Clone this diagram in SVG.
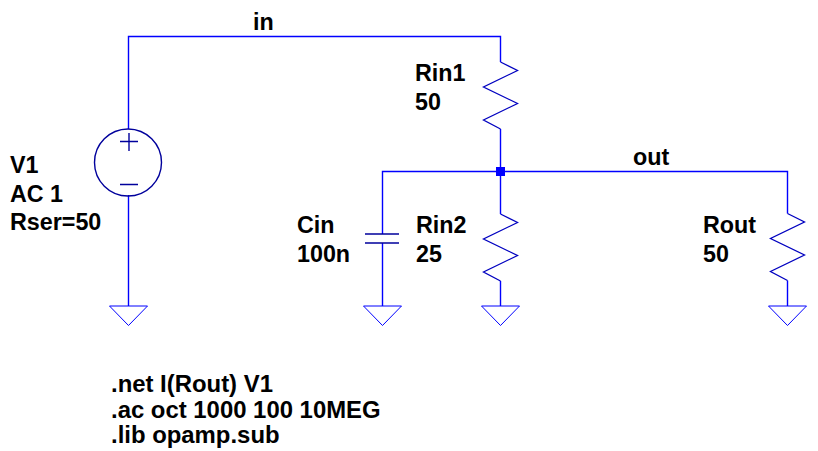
<svg xmlns="http://www.w3.org/2000/svg" width="818" height="451" viewBox="0 0 818 451">
<style>
.w{fill:none;stroke:#0000ff;stroke-width:1.400}
.s{fill:none;stroke:#00009c;stroke-width:1.400}
.g{fill:none;stroke:#0000ff;stroke-width:1}
.z{fill:none;stroke:#0000c0;stroke-width:1.300}
text{font-family:"Liberation Sans",Arial,sans-serif;font-weight:700;font-size:23.300px;fill:#000}
.d{font-size:23.900px}
</style>
<defs>
<path id="res" class="z" d="M0 0L17 8.500L-17 25L17 41.500L-17 58L0 67"/>
<path id="gnd" class="g" d="M-19 0H19L0 19.500Z"/>
</defs>
<rect width="818" height="451" fill="#fff"/>
<g id="connectors">
<path class="w" d="M128.500 129V36.500H500.500V62"/>
<path class="w" d="M128.500 195V306"/>
<path class="w" d="M500.500 129V214"/>
<path class="w" d="M382.500 234V171.500H787.500V213.500"/>
<path class="w" d="M382.500 243V306"/>
<path class="w" d="M500.500 281V306"/>
<path class="w" d="M787.500 280.500V306"/>
<rect x="496" y="167" width="9" height="9" fill="#0000ff"/>
</g>
<g id="V1">
<circle class="s" cx="128" cy="162.500" r="33.500"/>
<path class="s" d="M120 141.500H138M129 133V151M120 184.500H138"/>
<text x="10" y="173">V1</text><text x="10" y="202">AC 1</text><text x="10" y="230">Rser=50</text>
</g>
<g id="Rin1"><use href="#res" x="500.500" y="62"/><text x="415" y="81">Rin1</text><text x="415" y="110">50</text></g>
<g id="Rin2"><use href="#res" x="500.500" y="214"/><text x="416" y="233">Rin2</text><text x="416" y="262">25</text></g>
<g id="Rout"><use href="#res" x="787.500" y="213.500"/><text x="703" y="233">Rout</text><text x="703" y="262">50</text></g>
<g id="Cin"><path class="s" d="M365 234H399M365 243H399"/><text x="297" y="233">Cin</text><text x="297" y="262">100n</text></g>
<g id="gnd1"><use href="#gnd" x="128.500" y="306"/></g>
<g id="gnd2"><use href="#gnd" x="382.500" y="306"/></g>
<g id="gnd3"><use href="#gnd" x="500.500" y="306"/></g>
<g id="gnd4"><use href="#gnd" x="787.500" y="306"/></g>
<g id="labels"><text x="253" y="30">in</text><text x="633" y="165">out</text></g>
<g id="directives"><text class="d" x="111" y="392">.net I(Rout) V1</text><text class="d" x="111" y="418">.ac oct 1000 100 10MEG</text><text class="d" x="111" y="443">.lib opamp.sub</text></g>
</svg>
